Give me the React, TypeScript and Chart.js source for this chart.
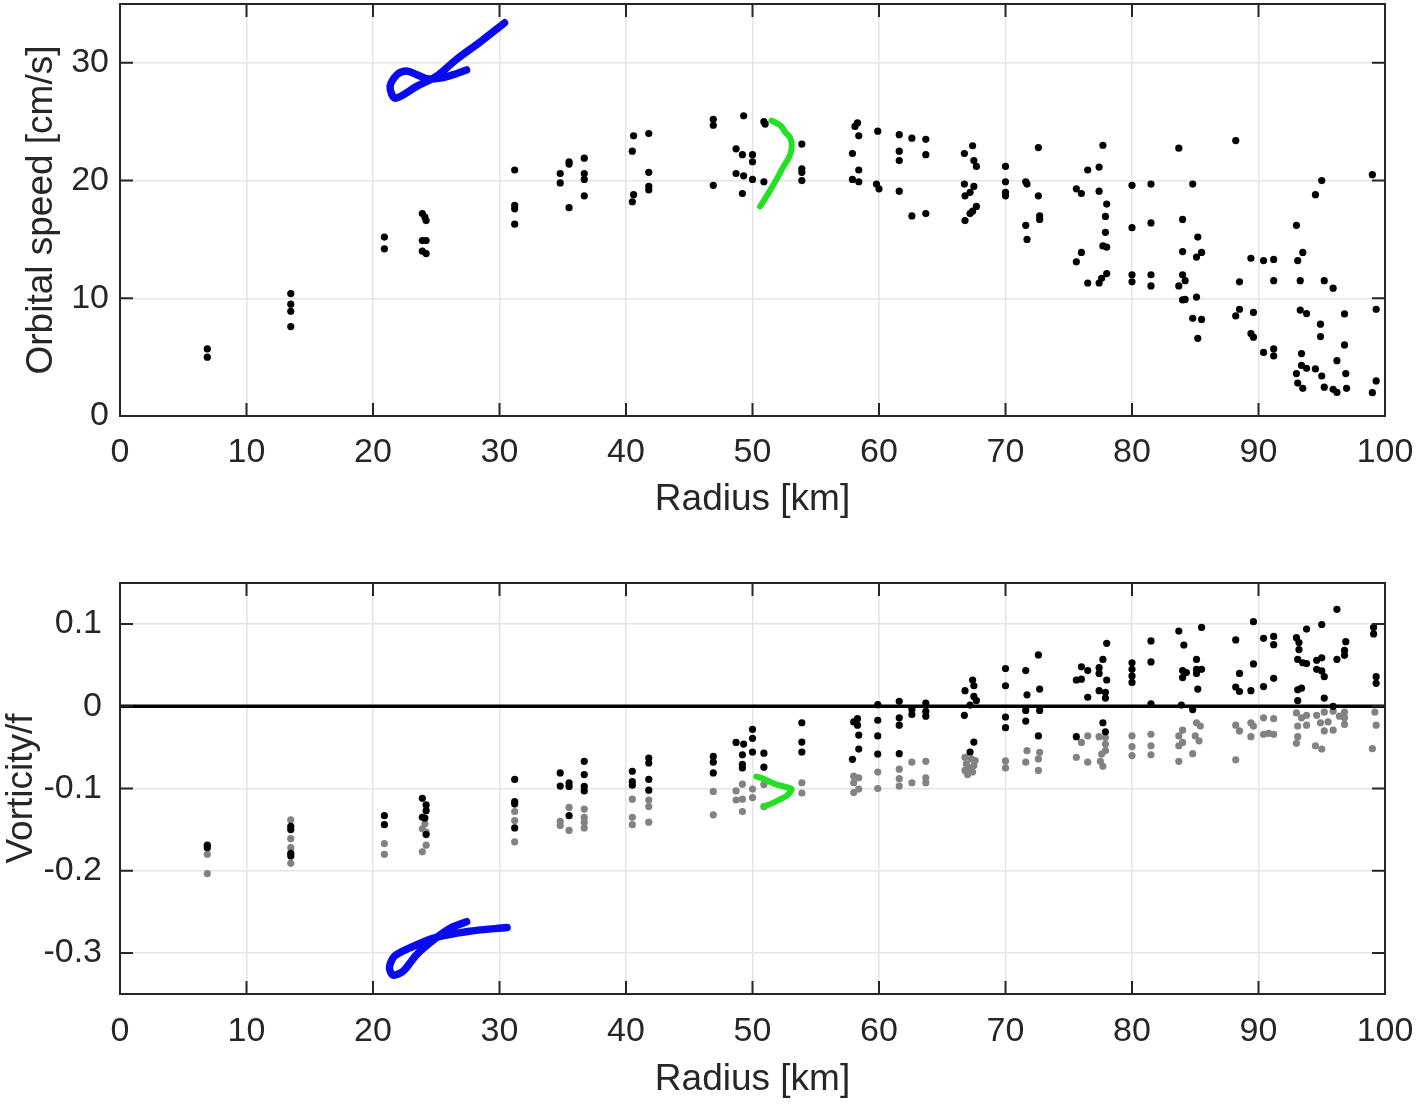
import { useEffect, useRef } from "react";
import { Chart, registerables } from "chart.js";

Chart.register(...registerables);

type Pt = [number, number];

// axes
const xTicks = [0, 10, 20, 30, 40, 50, 60, 70, 80, 90, 100];
const xTickLabels = ["0", "10", "20", "30", "40", "50", "60", "70", "80", "90", "100"];
const speedTicks = [0, 10, 20, 30];
const speedTickLabels = ["0", "10", "20", "30"];
const vortTicks = [-0.3, -0.2, -0.1, 0, 0.1];
const vortTickLabels = ["-0.3", "-0.2", "-0.1", "0", "0.1"];

// top panel: orbital speed [cm/s] vs radius [km]
const speedDots: Pt[] = [
  [6.9, 5.7], [6.9, 5.0],
  [13.5, 10.4], [13.5, 9.5], [13.5, 8.9], [13.5, 7.6],
  [20.9, 15.2], [20.9, 14.2],
  [23.9, 17.2], [24.1, 16.9], [24.2, 16.6], [23.9, 14.9], [24.2, 14.9], [23.9, 14.0], [24.2, 13.8],
  [31.2, 20.9], [31.2, 17.9], [31.2, 17.6], [31.2, 16.3],
  [35.5, 21.6], [35.5, 21.4], [34.8, 20.6], [34.8, 19.8], [35.5, 17.7],
  [36.7, 21.9], [36.7, 20.6], [36.7, 20.1], [36.7, 18.7],
  [40.6, 23.8], [40.5, 22.5], [40.6, 18.8], [40.5, 18.2],
  [41.8, 24.0], [41.8, 20.7], [41.8, 19.5], [41.8, 19.2],
  [46.9, 25.2], [46.9, 24.7], [46.9, 19.6],
  [49.3, 25.5], [48.7, 22.7], [49.2, 22.2], [48.7, 20.6], [49.3, 20.4], [49.2, 18.9],
  [50.0, 22.2], [50.0, 21.6], [50.0, 20.1],
  [50.9, 25.0], [51.0, 24.8], [50.9, 19.9],
  [53.9, 23.1], [53.9, 21.0], [53.9, 20.7], [53.9, 20.0],
  [58.3, 24.9], [58.1, 24.6], [58.4, 23.8], [57.9, 22.3], [58.4, 20.9], [57.9, 20.1], [58.4, 19.9],
  [59.9, 24.2], [59.8, 19.7], [60.0, 19.3],
  [61.6, 23.9], [61.6, 22.5], [61.6, 21.7], [61.6, 19.1],
  [62.6, 23.6], [62.6, 17.0],
  [63.7, 23.5], [63.7, 22.2], [63.7, 17.2],
  [66.75, 22.3], [67.4, 22.96], [67.5, 21.7], [67.7, 21.2], [66.75, 19.7], [67.5, 19.5], [67.2, 19.0],
  [66.8, 18.7], [67.7, 17.8], [67.4, 17.4], [67.2, 17.2], [66.8, 16.6],
  [70.0, 21.2], [70.0, 19.9], [70.0, 19.0], [70.0, 18.7],
  [72.6, 22.8], [71.6, 19.9], [71.7, 19.7], [72.6, 18.7], [72.7, 17.0], [72.7, 16.7], [71.6, 16.2], [71.7, 15.0],
  [76.5, 20.9], [77.4, 21.15], [77.7, 23.0], [75.6, 19.3], [76.0, 18.9], [77.4, 19.1], [78.0, 18.0],
  [77.9, 16.95], [77.9, 15.6], [77.7, 14.45], [78.0, 14.35], [76.0, 13.9], [75.6, 13.1],
  [76.5, 11.3], [77.4, 11.3], [77.6, 11.7], [78.0, 12.1],
  [80.0, 19.6], [81.5, 19.7], [80.0, 16.0], [81.5, 16.4], [80.0, 12.0], [80.0, 11.4], [81.5, 12.0], [81.5, 11.05],
  [83.7, 22.75], [84.8, 19.7], [84.0, 16.7], [85.2, 15.2], [84.0, 13.97], [85.1, 13.5], [85.5, 13.9],
  [84.0, 12.0], [84.2, 11.5], [83.7, 11.05], [84.0, 9.86], [84.2, 9.9], [85.1, 10.1], [84.8, 8.3],
  [85.5, 8.2], [85.2, 6.6],
  [88.2, 23.4], [88.5, 11.4], [88.5, 9.07], [88.2, 8.5], [89.4, 13.4], [89.6, 8.8], [89.4, 7.0], [89.6, 6.7],
  [90.4, 13.2], [91.2, 13.3], [91.2, 11.5], [90.4, 5.4], [91.2, 5.7], [91.2, 5.1],
  [93.0, 16.2], [93.5, 13.9], [93.1, 13.2], [93.3, 11.5], [93.3, 9.0], [93.8, 8.7], [94.9, 7.8], [94.9, 6.75],
  [93.4, 5.3], [93.4, 4.3], [93.8, 4.05], [93.0, 3.6], [93.1, 2.8], [93.5, 2.35], [94.5, 4.0], [95.0, 3.4],
  [95.2, 2.45], [95.9, 2.27], [96.2, 2.0], [95.0, 20.0], [94.5, 18.8], [95.2, 11.5], [95.9, 10.86],
  [96.8, 8.67], [96.8, 6.04], [96.2, 4.7], [96.9, 3.6], [96.96, 2.35],
  [99.0, 20.5], [99.3, 9.07], [99.3, 2.98], [99.0, 1.98],
];

const speedBlue: Pt[] = [
  [30.4, 33.4], [28.5, 31.8], [26.6, 30.3], [25.0, 28.85], [23.45, 28.0], [21.75, 27.0],
  [21.35, 28.0], [21.9, 29.0], [22.65, 29.3], [23.45, 29.0], [24.25, 28.65], [25.3, 28.7],
  [26.35, 29.0], [27.4, 29.4],
];

const speedGreen: Pt[] = [
  [51.5, 25.1], [52.2, 24.7], [52.6, 24.1], [53.0, 23.6], [53.1, 22.8], [52.9, 22.0],
  [52.4, 21.1], [51.9, 20.1], [51.3, 19.0], [50.6, 17.8],
];

// bottom panel: vorticity / f vs radius [km]
const vortBlack: Pt[] = [
  [6.9, -0.169], [6.9, -0.172],
  [13.5, -0.146], [13.5, -0.150], [13.5, -0.179], [13.5, -0.182],
  [20.9, -0.133], [20.9, -0.144],
  [23.9, -0.112], [24.2, -0.120], [24.2, -0.127], [23.9, -0.135], [24.1, -0.136], [24.2, -0.156],
  [31.2, -0.089], [31.2, -0.116], [31.2, -0.119], [31.2, -0.148],
  [34.8, -0.081], [34.8, -0.097], [35.5, -0.093], [35.5, -0.0975], [35.5, -0.133],
  [36.7, -0.067], [36.7, -0.083], [36.7, -0.0975], [36.7, -0.103],
  [40.5, -0.079], [40.5, -0.0915], [40.5, -0.096],
  [41.8, -0.063], [41.8, -0.069], [41.8, -0.089], [41.8, -0.102],
  [46.9, -0.061], [46.9, -0.068], [46.9, -0.081],
  [48.7, -0.044], [49.3, -0.046], [49.2, -0.059], [49.2, -0.0705], [49.2, -0.075],
  [50.0, -0.028], [50.0, -0.039], [50.0, -0.0556],
  [50.9, -0.057], [50.9, -0.074],
  [53.9, -0.020], [53.9, -0.0435], [53.9, -0.0556],
  [58.3, -0.015], [58.0, -0.019], [58.3, -0.023], [58.4, -0.035], [58.4, -0.052], [57.9, -0.0645],
  [59.9, 0.002], [59.9, -0.017], [59.9, -0.036], [59.9, -0.058],
  [61.6, 0.006], [61.6, -0.014], [61.6, -0.023], [61.6, -0.0576],
  [62.6, -0.004], [62.6, -0.010],
  [63.7, 0.004], [63.7, -0.006], [63.7, -0.012],
  [67.4, 0.032], [66.8, 0.019], [67.5, 0.025], [67.5, 0.012], [67.7, 0.007], [67.2, 0.0015],
  [66.75, -0.011], [67.5, -0.0435], [67.2, -0.0556],
  [70.0, 0.046], [70.0, 0.025], [70.0, -0.013], [70.0, -0.026],
  [71.6, 0.0435], [71.7, 0.014], [71.6, -0.005], [71.6, -0.018],
  [72.6, 0.0625], [72.7, 0.021], [72.7, -0.005], [72.6, -0.036],
  [76.0, 0.048], [76.5, 0.0435], [75.6, 0.032], [76.0, 0.033], [77.4, 0.047], [77.4, 0.040],
  [77.7, 0.057], [78.0, 0.0766], [78.0, 0.032], [77.4, 0.019], [77.9, 0.017], [77.9, 0.010],
  [76.5, 0.011], [77.7, -0.020], [77.9, -0.031], [75.6, -0.037],
  [80.0, 0.053], [80.0, 0.045], [80.0, 0.037], [80.0, 0.029],
  [81.5, 0.0795], [81.5, 0.054], [81.5, 0.003],
  [83.7, 0.0915], [84.1, 0.0746], [85.5, 0.096], [85.1, 0.057], [84.0, 0.0435], [84.0, 0.035],
  [84.3, 0.041], [85.1, 0.045], [85.5, 0.045], [85.1, 0.040], [85.2, 0.021], [83.9, 0.0015], [84.8, -0.004],
  [88.2, 0.0807], [89.6, 0.103], [88.5, 0.040], [89.6, 0.0516], [88.2, 0.0235], [88.5, 0.018], [89.4, 0.019],
  [90.4, 0.0827], [91.2, 0.085], [91.2, 0.075], [90.4, 0.024], [91.2, 0.034],
  [93.0, 0.0835], [93.8, 0.094], [93.2, 0.0775], [93.2, 0.069], [95.0, 0.0995], [93.1, 0.057],
  [93.5, 0.053], [93.8, 0.052], [94.6, 0.056], [95.0, 0.059], [94.6, 0.045], [95.0, 0.043],
  [95.2, 0.036], [93.1, 0.020], [93.4, 0.022], [93.1, 0.007], [95.2, 0.010], [95.9, 0.0],
  [96.2, 0.118], [96.9, 0.0786], [96.8, 0.068], [96.8, 0.062], [96.2, 0.057],
  [99.1, 0.096], [99.1, 0.088], [99.3, 0.036], [99.3, 0.028],
];

const vortGray: Pt[] = [
  [6.9, -0.180], [6.9, -0.2035],
  [13.5, -0.138], [13.5, -0.161], [13.5, -0.172], [13.5, -0.191],
  [20.9, -0.167], [20.9, -0.180],
  [24.1, -0.143], [23.9, -0.149], [24.2, -0.153], [24.2, -0.169], [23.9, -0.177],
  [31.2, -0.128], [31.2, -0.139], [31.2, -0.165],
  [35.5, -0.123], [34.8, -0.140], [34.8, -0.145], [35.5, -0.151],
  [36.7, -0.125], [36.7, -0.135], [36.7, -0.141], [36.7, -0.148],
  [40.5, -0.113], [40.5, -0.135], [40.5, -0.144],
  [41.8, -0.114], [41.8, -0.122], [41.8, -0.141],
  [46.9, -0.1035], [46.9, -0.132],
  [49.2, -0.0947], [48.7, -0.103], [48.7, -0.114], [49.2, -0.113], [49.2, -0.128],
  [50.0, -0.1007], [50.0, -0.111],
  [50.9, -0.095], [50.9, -0.122],
  [53.9, -0.093], [53.9, -0.1055],
  [58.0, -0.085], [58.4, -0.087], [58.0, -0.093], [58.4, -0.1007], [58.0, -0.105],
  [59.9, -0.080], [59.9, -0.100],
  [61.6, -0.0765], [61.6, -0.088], [61.6, -0.097],
  [62.6, -0.068], [62.6, -0.093],
  [63.7, -0.067], [63.7, -0.087], [63.7, -0.093],
  [66.8, -0.062], [67.3, -0.064], [67.6, -0.066], [66.9, -0.070], [67.5, -0.072], [67.1, -0.075],
  [66.8, -0.078], [67.4, -0.080], [67.0, -0.083],
  [70.0, -0.0665], [70.0, -0.075],
  [71.7, -0.054], [71.6, -0.068],
  [72.7, -0.056], [72.6, -0.064], [72.6, -0.078],
  [76.0, -0.044], [76.5, -0.036], [77.4, -0.037], [77.9, -0.038], [77.9, -0.046], [77.9, -0.054],
  [77.6, -0.058], [75.6, -0.062], [76.5, -0.068], [77.5, -0.067], [77.7, -0.073],
  [80.0, -0.036], [80.0, -0.049], [80.0, -0.060],
  [81.5, -0.034], [81.5, -0.048], [81.5, -0.059],
  [84.0, -0.029], [83.7, -0.036], [84.0, -0.044], [83.7, -0.048], [85.1, -0.020], [85.4, -0.024],
  [85.0, -0.036], [85.3, -0.042], [84.8, -0.0576], [83.7, -0.067],
  [88.2, -0.023], [88.5, -0.030], [89.4, -0.020], [89.6, -0.024], [89.4, -0.037], [88.2, -0.065],
  [90.4, -0.014], [91.2, -0.015], [90.4, -0.034], [91.2, -0.034], [90.8, -0.033],
  [93.0, -0.008], [93.8, -0.011], [93.4, -0.014], [94.6, -0.011], [95.2, -0.007], [95.9, -0.006],
  [96.4, -0.012], [93.1, -0.024], [93.8, -0.023], [94.9, -0.020], [95.5, -0.019], [93.1, -0.037],
  [93.0, -0.045], [95.2, -0.030], [95.9, -0.029], [94.5, -0.048], [95.0, -0.052],
  [96.8, -0.007], [96.8, -0.014], [96.8, -0.022],
  [99.2, -0.007], [99.3, -0.023], [99.0, -0.0516],
];

const vortBlue: Pt[] = [
  [30.6, -0.269], [27.5, -0.274], [24.8, -0.282], [22.9, -0.294], [21.7, -0.304], [21.3, -0.318],
  [21.6, -0.327], [22.4, -0.322], [23.45, -0.302], [24.8, -0.284], [26.1, -0.270], [27.4, -0.262],
];

const vortGreen: Pt[] = [
  [50.3, -0.0854], [51.0, -0.089], [51.8, -0.0947], [53.1, -0.1007], [52.7, -0.109],
  [51.4, -0.119], [50.9, -0.1217],
];

const zeroLine: Pt[] = [[0, 0], [100, 0]];

const FONT = "'Liberation Sans', Arial, Helvetica, sans-serif";
const TEXT = "#262626";
const GRID = "#e4e4e4";

const toXY = (pts: Pt[]) => pts.map(([x, y]) => ({ x, y }));

const dots = (pts: Pt[], color: string) => ({
  data: toXY(pts),
  showLine: false,
  pointRadius: 3.6,
  pointHoverRadius: 3.6,
  pointBorderWidth: 0,
  pointBackgroundColor: color,
});

const path = (pts: Pt[], color: string, width: number, tension = 0.3) => ({
  data: toXY(pts),
  showLine: true,
  borderColor: color,
  borderWidth: width,
  borderCapStyle: "round",
  borderJoinStyle: "round",
  tension,
  pointRadius: 0,
  pointHoverRadius: 0,
  fill: false,
});

// MATLAB-style box with inward ticks
const framePlugin = {
  id: "frame",
  afterDraw(chart: any) {
    const { ctx, chartArea: a, scales } = chart;
    const len = 13;
    ctx.save();
    ctx.strokeStyle = TEXT;
    ctx.lineWidth = 2;
    ctx.beginPath();
    scales.x.ticks.forEach((t: any) => {
      const px = scales.x.getPixelForValue(t.value);
      ctx.moveTo(px, a.bottom);
      ctx.lineTo(px, a.bottom - len);
      ctx.moveTo(px, a.top);
      ctx.lineTo(px, a.top + len);
    });
    scales.y.ticks.forEach((t: any) => {
      const py = scales.y.getPixelForValue(t.value);
      ctx.moveTo(a.left, py);
      ctx.lineTo(a.left + len, py);
      ctx.moveTo(a.right, py);
      ctx.lineTo(a.right - len, py);
    });
    ctx.stroke();
    ctx.strokeRect(a.left, a.top, a.right - a.left, a.bottom - a.top);
    ctx.restore();
  },
};

interface AxisSpec {
  min: number;
  max: number;
  ticks: number[];
  labels: string[];
  title: string;
  tickPad: number;
  titlePad: { top: number; bottom: number };
  size: number;
  horizontal: boolean;
}

const makeAxis = (s: AxisSpec) => ({
  type: "linear",
  min: s.min,
  max: s.max,
  afterBuildTicks: (scale: any) => {
    scale.ticks = s.ticks.map((v) => ({ value: v }));
  },
  afterFit: (scale: any) => {
    if (s.horizontal) scale.height = s.size;
    else scale.width = s.size;
    scale.paddingTop = 0;
    scale.paddingBottom = 0;
    scale.paddingLeft = 0;
    scale.paddingRight = 0;
  },
  border: { display: false },
  grid: { color: GRID, lineWidth: 1.5, drawTicks: false },
  ticks: {
    autoSkip: false,
    maxRotation: 0,
    padding: s.tickPad,
    color: TEXT,
    font: { family: FONT, size: 34 },
    callback: (_v: any, i: number) => s.labels[i],
  },
  title: {
    display: true,
    text: s.title,
    color: TEXT,
    font: { family: FONT, size: 37 },
    padding: s.titlePad,
  },
});

interface PanelProps {
  height: number;
  padTop: number;
  xSize: number;
  xTitlePad: number;
  xTickPad: number;
  yTitlePad: number;
  yTickPad: number;
  yMin: number;
  yMax: number;
  yTicks: number[];
  yLabels: string[];
  yTitle: string;
  datasets: any[];
}

const Panel = (p: PanelProps) => {
  const canvasRef = useRef<HTMLCanvasElement>(null);

  useEffect(() => {
    if (!canvasRef.current) return;
    const chart = new Chart(canvasRef.current, {
      type: "scatter",
      data: { datasets: p.datasets },
      options: {
        responsive: false,
        animation: false,
        events: [],
        layout: { padding: { top: p.padTop, right: 32, left: 0, bottom: 0 } },
        plugins: { legend: { display: false }, tooltip: { enabled: false } },
        scales: {
          x: makeAxis({
            min: 0,
            max: 100,
            ticks: xTicks,
            labels: xTickLabels,
            title: "Radius [km]",
            tickPad: p.xTickPad,
            titlePad: { top: 0, bottom: p.xTitlePad },
            size: p.xSize,
            horizontal: true,
          }),
          y: makeAxis({
            min: p.yMin,
            max: p.yMax,
            ticks: p.yTicks,
            labels: p.yLabels,
            title: p.yTitle,
            tickPad: p.yTickPad,
            titlePad: { top: p.yTitlePad, bottom: 0 },
            size: 120,
            horizontal: false,
          }),
        },
      } as any,
      plugins: [framePlugin],
    });
    return () => chart.destroy();
  }, []);

  return (
    <canvas
      ref={canvasRef}
      width={1417}
      height={p.height}
      style={{ display: "block", width: 1417, height: p.height }}
    ></canvas>
  );
};

const App = () => {
  const BLUE = "#0a0aee";
  const GREEN = "#22e022";
  return (
    <div style={{ position: "absolute", left: 0, top: 0, width: 1417, height: 1104, background: "#fff" }}>
      <Panel
        height={545}
        padTop={4}
        xSize={129}
        xTitlePad={23}
        xTickPad={16}
        yTitlePad={20}
        yTickPad={11}
        yMin={0}
        yMax={35}
        yTicks={speedTicks}
        yLabels={speedTickLabels}
        yTitle="Orbital speed [cm/s]"
        datasets={[
          path(speedBlue, BLUE, 7.5),
          path(speedGreen, GREEN, 6),
          dots(speedDots, "#000000"),
        ]}
      />
      <Panel
        height={559}
        padTop={38}
        xSize={110}
        xTitlePad={2}
        xTickPad={17}
        yTitlePad={0}
        yTickPad={18}
        yMin={-0.35}
        yMax={0.15}
        yTicks={vortTicks}
        yLabels={vortTickLabels}
        yTitle="Vorticity/f"
        datasets={[
          path(vortBlue, BLUE, 7.5),
          path(vortGreen, GREEN, 6, 0.2),
          dots(vortBlack, "#000000"),
          dots(vortGray, "#828282"),
          path(zeroLine, "#000000", 3.5, 0),
        ]}
      />
    </div>
  );
};

export default App;
